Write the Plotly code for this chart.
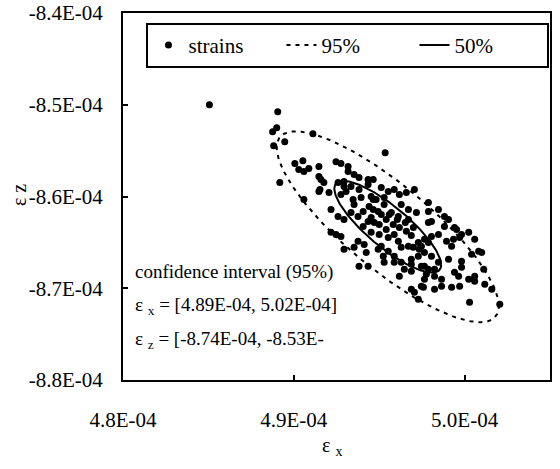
import numpy as np
import plotly.graph_objects as go

# strain samples (values in units of 1E-04)
strain_x = [
    4.8506, 4.8906, 4.8900, 4.8876, 4.8882, 4.8947, 4.9112, 4.9535, 4.9053, 4.9006,
    4.9029, 4.9059, 4.9088, 4.9147, 4.9147, 4.9159, 4.8918, 4.9247, 4.9276, 4.9318,
    4.9153, 4.9206, 4.9318, 4.9353, 4.9382, 4.9435, 4.9465, 4.9335, 4.9294, 4.9276,
    4.9465, 4.9512, 4.9553, 4.9588, 4.9618, 4.9659, 4.9706, 4.9218, 4.9382, 4.9435,
    4.9453, 4.9353, 4.9406, 4.9441, 4.9494, 4.9529, 4.9376, 4.9435, 4.9471, 4.9571,
    4.9612, 4.9671, 4.9718, 4.9788, 4.9788, 4.9847, 4.9906, 4.9953, 4.9982, 5.0024,
    5.0059, 4.9406, 4.9453, 4.9500, 4.9553, 4.9612, 4.9512, 4.9553, 4.9588, 4.9629,
    4.9671, 4.9524, 4.9529, 4.9629, 4.9688, 4.9729, 4.9747, 4.9788, 4.9824, 4.9865,
    4.9729, 4.9765, 4.9806, 4.9847, 4.9765, 4.9747, 4.9824, 4.9865, 4.9924, 4.9276,
    4.9059, 4.9147, 4.9294, 4.9353, 4.9424, 4.9435, 4.9618, 4.9688, 4.9941, 4.9982,
    5.0024, 5.0059, 5.0041, 5.0082, 4.9176, 4.9906, 5.0100, 4.9982, 5.0112, 5.0059,
    5.0118, 5.0159, 5.0029, 5.0206, 4.9965, 4.9971, 4.9759, 4.9706, 4.9729, 4.9882,
    4.9971, 4.9935, 4.9924, 4.9894, 4.9788, 4.9806, 4.9765, 4.9806, 4.9847, 4.9824,
    4.9765, 4.9688, 4.9647, 4.9588, 4.9747, 4.9788, 4.9247, 4.9218, 4.9376, 4.9412,
    4.9294, 4.9259, 4.9335, 4.9306, 4.9259, 4.9294, 4.9382, 4.9494, 4.9941, 4.9882,
    4.9347, 4.9394, 4.9465, 4.9512, 4.9541, 4.9582, 4.9618, 4.9659, 4.9688, 4.9700,
    4.9653, 4.9606, 4.9559, 4.9629, 4.9671, 4.9588, 4.9541, 4.9500, 4.9453, 4.9482,
    4.9529, 4.9735, 4.9700, 4.9776, 4.9688,
]
strain_z = [
    -8.5000, -8.5076, -8.5250, -8.5293, -8.5446, -8.5402, -8.5315, -8.5522, -8.5609, -8.5641,
    -8.5707, -8.5728, -8.5696, -8.5674, -8.5783, -8.5815, -8.5848, -8.5620, -8.5641, -8.5674,
    -8.5924, -8.5957, -8.5728, -8.5761, -8.5793, -8.5815, -8.5815, -8.5891, -8.5891, -8.5978,
    -8.6033, -8.5902, -8.5946, -8.5924, -8.5978, -8.5957, -8.5924, -8.6141, -8.5924, -8.5870,
    -8.6000, -8.6087, -8.6163, -8.6109, -8.6163, -8.6087, -8.6217, -8.6272, -8.6283, -8.6174,
    -8.6217, -8.6141, -8.6174, -8.6065, -8.6163, -8.6141, -8.6250, -8.6359, -8.6413, -8.6391,
    -8.6467, -8.6326, -8.6391, -8.6413, -8.6446, -8.6489, -8.6543, -8.6598, -8.6652, -8.6554,
    -8.6543, -8.6652, -8.6717, -8.6717, -8.6685, -8.6652, -8.6761, -8.6793, -8.6870, -8.6902,
    -8.6500, -8.6467, -8.6435, -8.6413, -8.6902, -8.6978, -8.7011, -8.6978, -8.6989, -8.6435,
    -8.6033, -8.5946, -8.6576, -8.6554, -8.6609, -8.6761, -8.6870, -8.7011, -8.6826, -8.6772,
    -8.6902, -8.6870, -8.6630, -8.6598, -8.5848, -8.6685, -8.6609, -8.6707, -8.6793, -8.6924,
    -8.6957, -8.7011, -8.7152, -8.7174, -8.6870, -8.6978, -8.6989, -8.7043, -8.7120, -8.6326,
    -8.6446, -8.6467, -8.6543, -8.6489, -8.6283, -8.6272, -8.6609, -8.6652, -8.6717, -8.6793,
    -8.6761, -8.6815, -8.6793, -8.6717, -8.6543, -8.6500, -8.6413, -8.6391, -8.6489, -8.6522,
    -8.6250, -8.6217, -8.6174, -8.5946, -8.5848, -8.5837, -8.6761, -8.6576, -8.6337, -8.6217,
    -8.6033, -8.6011, -8.6141, -8.6196, -8.6250, -8.6304, -8.6337, -8.6380, -8.6424, -8.6337,
    -8.6283, -8.6250, -8.6196, -8.6087, -8.6250, -8.6413, -8.6359, -8.6304, -8.6228, -8.6033,
    -8.6011, -8.6576, -8.6554, -8.6848, -8.6739,
]
UNIT = 1e-4

# confidence ellipse parameters (units of 1E-04)
center_x = 4.955
center_z = -8.633
sigma_x = 0.02656
sigma_z = 0.0425
rho = -0.83
chi2_levels = {"95%": 5.991, "50%": 1.386}

x_tickvals = [4.8, 4.9, 5.0]
x_ticktext = ["4.8E-04", "4.9E-04", "5.0E-04"]
z_tickvals = [-8.8, -8.7, -8.6, -8.5, -8.4]
z_ticktext = ["-8.8E-04", "-8.7E-04", "-8.6E-04", "-8.5E-04", "-8.4E-04"]

ci_lines = [
    "confidence interval (95%)",
    "ε <sub>x</sub> = [4.89E-04, 5.02E-04]",
    "ε <sub>z</sub> = [-8.74E-04, -8.53E-",
]

FONT = "Times New Roman, Liberation Serif, serif"


def ellipse(k):
    cov = np.array([[sigma_x ** 2, rho * sigma_x * sigma_z],
                    [rho * sigma_x * sigma_z, sigma_z ** 2]])
    L = np.linalg.cholesky(cov)
    t = np.linspace(0, 2 * np.pi, 241)
    pts = np.sqrt(k) * L @ np.vstack([np.cos(t), np.sin(t)])
    return (center_x + pts[0]) * UNIT, (center_z + pts[1]) * UNIT


fig = go.Figure()
fig.add_trace(go.Scatter(
    x=np.array(strain_x) * UNIT, y=np.array(strain_z) * UNIT,
    mode="markers", name="strains",
    marker=dict(color="black", size=7),
))
ex, ez = ellipse(chi2_levels["95%"])
fig.add_trace(go.Scatter(x=ex, y=ez, mode="lines", name="95%",
                         line=dict(color="black", width=2, dash="4px,5px")))
ex, ez = ellipse(chi2_levels["50%"])
fig.add_trace(go.Scatter(x=ex, y=ez, mode="lines", name="50%",
                         line=dict(color="black", width=2)))

axis_common = dict(showline=True, linecolor="black", linewidth=2, mirror=True,
                   ticks="inside", ticklen=5, tickwidth=2, tickcolor="black",
                   showgrid=False, zeroline=False, automargin=False,
                   ticklabeloverflow="allow",
                   tickfont=dict(family=FONT, size=21, color="black"))

fig.update_xaxes(range=[4.8 * UNIT, 5.05 * UNIT],
                 tickvals=[v * UNIT for v in x_tickvals], ticktext=x_ticktext,
                 ticklabelstandoff=20, **axis_common)
fig.update_yaxes(range=[-8.8 * UNIT, -8.4 * UNIT],
                 tickvals=[v * UNIT for v in z_tickvals], ticktext=z_ticktext,
                 ticklabelstandoff=14, **axis_common)

annotations = []
for txt, yy in zip(ci_lines, [0.294, 0.2016, 0.109]):
    annotations.append(dict(text=txt, x=0.023, y=yy, xref="paper", yref="paper",
                            xanchor="left", yanchor="middle", showarrow=False,
                            font=dict(family=FONT, size=19, color="black")))
annotations.append(dict(text="ε <sub>x</sub>", x=0.49, y=-0.18, xref="paper", yref="paper",
                        xanchor="center", yanchor="middle", showarrow=False,
                        font=dict(family=FONT, size=20, color="black")))
annotations.append(dict(text="ε z", x=-0.245, y=0.505, xref="paper", yref="paper",
                        xanchor="center", yanchor="middle", showarrow=False, textangle=-90,
                        font=dict(family=FONT, size=20, color="black")))

fig.update_layout(
    width=560, height=469,
    font=dict(family=FONT, color="black"),
    margin=dict(l=123, r=10, t=13, b=89, autoexpand=False),
    paper_bgcolor="white", plot_bgcolor="white",
    annotations=annotations,
    showlegend=True,
    legend=dict(orientation="h", x=0.055, y=0.973, xanchor="left", yanchor="top",
                bordercolor="black", borderwidth=2, bgcolor="white",
                entrywidth=88, entrywidthmode="pixels",
                font=dict(family=FONT, size=21, color="black")),
)

# remove the default 8px page margin so the figure sits at the window's corner
fig.write_html("out.html", config={"displayModeBar": False},
               post_script="document.body.style.margin='0';")
